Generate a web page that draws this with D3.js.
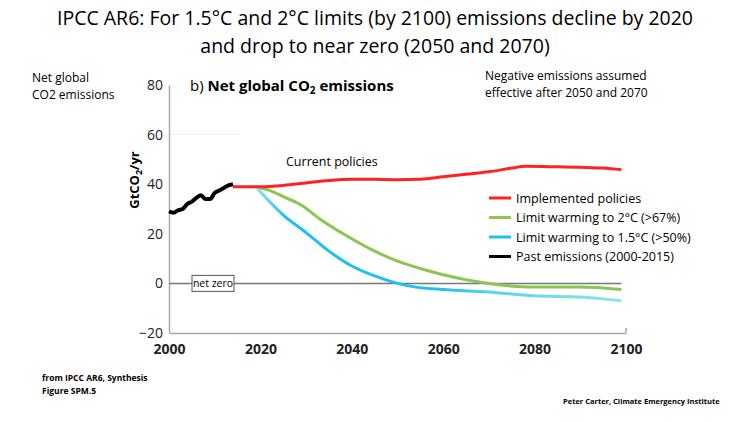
<!DOCTYPE html><html><head><meta charset="utf-8"><script src="https://cdn.jsdelivr.net/npm/d3@7"></script>
<style>body{margin:0;background:#fff}text{font-family:"Open Sans",sans-serif}</style></head><body><svg id="c" width="750" height="422"></svg><script>
const xTicks=[2000,2020,2040,2060,2080,2100];
const yTicks=[-20,0,20,40,60,80];
const pastYears=[2000,2001,2002,2003,2004,2005,2006,2007,2008,2009,2010,2011,2012,2013,2014];
const pastVals=[29,28.5,29.5,30,32,33,34.5,35.5,34,34,36.5,37.5,38.5,39.5,40];
const redYears=[2014,2020,2025,2030,2035,2040,2045,2050,2055,2060,2065,2070,2075,2078,2085,2090,2095,2099];
const redVals=[39,39,39.5,40.5,41.5,42,42,41.8,42,43,44,45,46.5,47.2,47,46.8,46.5,45.8];
const greenYears=[2019,2022,2025,2029,2033,2040,2045,2050,2055,2060,2065,2070,2080,2090,2099];
const greenVals=[39,37.5,35,31.5,26,18,13,9,6,3.5,1.5,0,-1.5,-1.5,-2.5];
const blueYears=[2019,2022,2025,2030,2035,2040,2045,2050,2054,2060,2070,2080,2090,2099];
const blueVals=[39,33,27.5,20.5,13,7,3,0,-1.5,-2.5,-3.5,-5,-5.5,-7];
const legend=[["Implemented policies","#f22"],["Limit warming to 2°C (>67%)","#8bc653"],["Limit warming to 1.5°C (>50%)","#1ec0f2"],["Past emissions (2000-2015)","#000"]];
const svg=d3.select("#c");
const x=d3.scaleLinear().domain([2000,2100]).range([169,626]);
const y=d3.scaleLinear().domain([-20,80]).range([333,85]);
const line=d3.line().x((d,i)=>x(d[0])).y(d=>y(d[1])).curve(d3.curveMonotoneX);
const z=(a,b)=>a.map((v,i)=>[v,b[i]]);
svg.append("text").attr("x",375).attr("y",25).attr("text-anchor","middle").attr("font-size",19.5).text("IPCC AR6: For 1.5°C and 2°C limits (by 2100) emissions decline by 2020");
svg.append("text").attr("x",375).attr("y",53).attr("text-anchor","middle").attr("font-size",19.5).text("and drop to near zero (2050 and 2070)");
svg.append("line").attr("x1",x(2000)).attr("x2",x(2015)).attr("y1",y(60)).attr("y2",y(60)).attr("stroke","#eee");
const gy=svg.append("g").attr("transform","translate(169,0)").call(d3.axisLeft(y).tickValues(yTicks).tickSize(0).tickPadding(6));
gy.select(".domain").attr("stroke","#aaa").attr("stroke-width",1.5);
gy.selectAll("text").attr("font-size",14).attr("fill","#222");
const gx=svg.append("g").attr("transform","translate(0,333)").call(d3.axisBottom(x).tickValues(xTicks).tickFormat(d3.format("d")).tickSize(0).tickPadding(11));
gx.select(".domain").attr("stroke","#aaa").attr("stroke-width",1.5);
gx.selectAll("text").attr("font-size",14).attr("font-weight","bold").attr("fill","#222");
svg.append("line").attr("x1",x(2100)).attr("x2",x(2100)).attr("y1",328).attr("y2",333).attr("stroke","#aaa").attr("stroke-width",1.5);
svg.append("line").attr("x1",x(2000)).attr("x2",x(2099)).attr("y1",y(0)).attr("y2",y(0)).attr("stroke","#777").attr("stroke-width",1.5);
svg.append("rect").attr("x",192).attr("y",y(0)-8).attr("width",42).attr("height",16).attr("fill","#fff").attr("stroke","#555");
svg.append("text").attr("x",213).attr("y",y(0)+4).attr("text-anchor","middle").attr("font-size",10.5).text("net zero");
const defs=svg.append("defs");
const g=defs.append("linearGradient").attr("id","bg").attr("gradientUnits","userSpaceOnUse").attr("x1",x(2019)).attr("x2",x(2099)).attr("y1",0).attr("y2",0);
[[0,"#8ee6e6"],[0.08,"#1ec0f2"],[0.5,"#1ec0f2"],[0.65,"#5cd3ea"],[1,"#8ee6e6"]].forEach(s=>g.append("stop").attr("offset",s[0]).attr("stop-color",s[1]));
svg.append("path").attr("d",line(z(greenYears,greenVals))).attr("fill","none").attr("stroke","#8bc653").attr("stroke-width",3);
svg.append("path").attr("d",line(z(blueYears,blueVals))).attr("fill","none").attr("stroke","url(#bg)").attr("stroke-width",3);
svg.append("path").attr("d",line(z(redYears,redVals))).attr("fill","none").attr("stroke","#f22").attr("stroke-width",3);
svg.append("path").attr("d",line(z(pastYears,pastVals))).attr("fill","none").attr("stroke","#000").attr("stroke-width",4);
svg.append("text").attr("x",190).attr("y",91).attr("font-size",15).html('b) <tspan font-weight="bold">Net global CO<tspan font-size="10" dy="3">2</tspan><tspan dy="-3"> emissions</tspan></tspan>');
svg.append("text").attr("x",286).attr("y",166).attr("font-size",12.5).text("Current policies");
svg.append("text").attr("x",485).attr("y",80).attr("font-size",12).text("Negative emissions assumed");
svg.append("text").attr("x",485).attr("y",97).attr("font-size",12).text("effective after 2050 and 2070");
svg.append("text").attr("x",32).attr("y",82).attr("font-size",12).text("Net global");
svg.append("text").attr("x",32).attr("y",99).attr("font-size",12).text("CO2 emissions");
svg.append("text").attr("transform","translate(139,180) rotate(-90)").attr("text-anchor","middle").attr("font-size",13).attr("font-weight","bold").html('GtCO<tspan font-size="9" dy="3">2</tspan><tspan dy="-3">/yr</tspan>');
legend.forEach((l,i)=>{const yy=198+i*19.5;
svg.append("line").attr("x1",489).attr("x2",511).attr("y1",yy).attr("y2",yy).attr("stroke",l[1]).attr("stroke-width",3);
svg.append("text").attr("x",516).attr("y",yy+4.5).attr("font-size",12.5).text(l[0]);});
svg.append("text").attr("x",42).attr("y",381).attr("font-size",8.5).attr("font-weight","bold").text("from IPCC AR6, Synthesis");
svg.append("text").attr("x",42).attr("y",394).attr("font-size",8.5).attr("font-weight","bold").text("Figure SPM.5");
svg.append("text").attr("x",563).attr("y",404).attr("font-size",7.5).attr("font-weight","bold").text("Peter Carter, Climate Emergency Institute");
</script></body></html>
